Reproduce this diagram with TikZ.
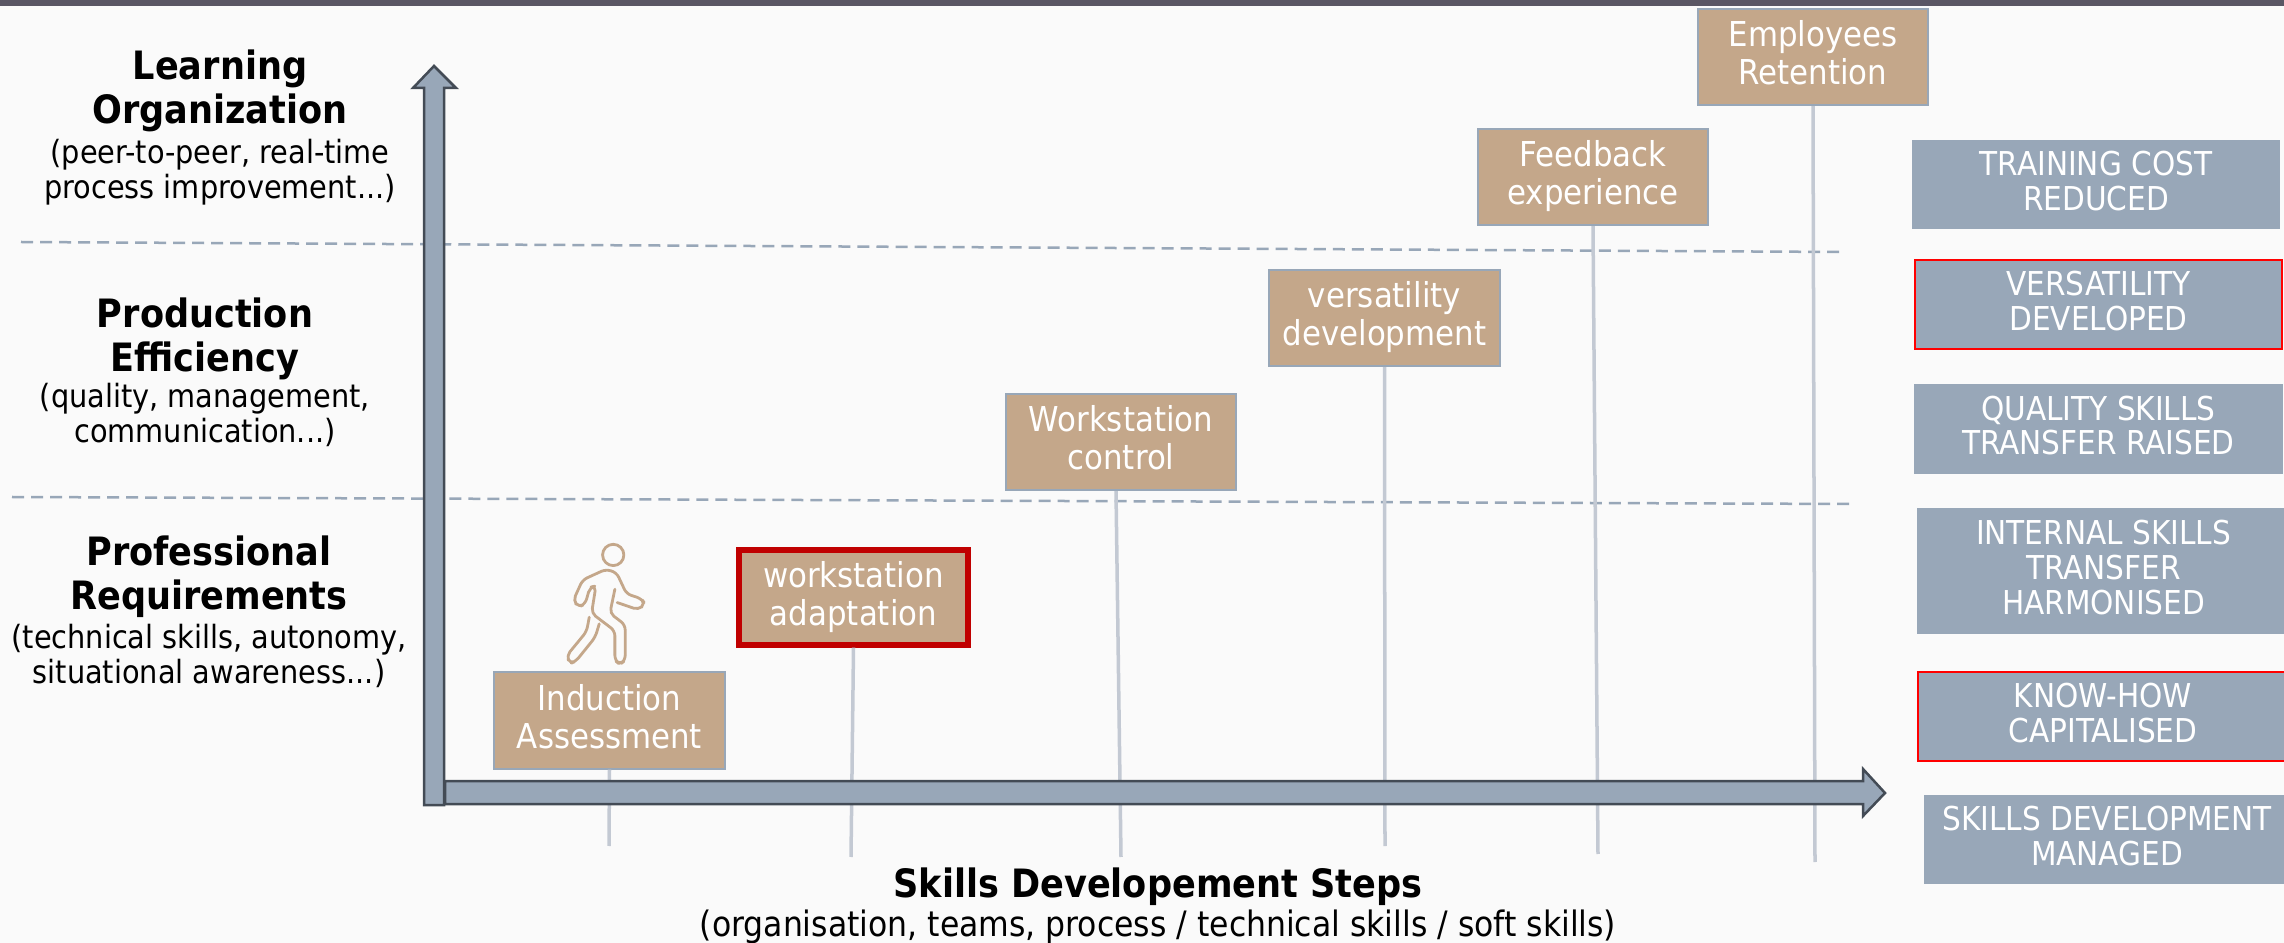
\documentclass[tikz,border=0pt]{standalone}
\usepackage{fontspec}
\setmainfont{DejaVu Sans Condensed}
\definecolor{pagegray}{HTML}{FAFAFA}
\definecolor{topbar}{HTML}{5A5664}
\definecolor{steelblue}{HTML}{98A7B8}
\definecolor{darkslate}{HTML}{434B55}
\definecolor{sandbrown}{HTML}{C4A78A}
\definecolor{paleline}{HTML}{C3C9D3}
\definecolor{keepred}{HTML}{C00000}
\tikzset{
	stepbox/.style={draw=steelblue, fill=sandbrown, line width=0.02cm, text=white, align=center, text depth=2.3pt,
		minimum width=2.3cm, minimum height=0.96cm, inner sep=0pt, font=\fontsize{9.75}{10.8}\selectfont},
	resultbox/.style={fill=steelblue, text=white, align=center, inner sep=0pt, text depth=2.1pt,
		font=\fontsize{9.35}{9.9}\selectfont},
	leveltitle/.style={align=center, inner sep=0pt, font=\fontsize{11.1}{12.5}\selectfont\bfseries},
	levelnote/.style={align=center, inner sep=0pt, font=\fontsize{9.1}{9.9}\selectfont},
	stepline/.style={paleline, line width=0.035cm},
	levelline/.style={steelblue, line width=0.025cm, dash pattern=on 0.12cm off 0.07cm},
	axisarrow/.style={draw=darkslate, fill=steelblue, line width=0.025cm, line join=miter},
	walker/.style={sandbrown, line width=0.028cm, rounded corners=0.05cm, line cap=round, line join=round}
}
\begin{document}
\begin{tikzpicture}[x=0.01cm, y=-0.01cm]
	\useasboundingbox (0,0) rectangle (2284,943);
	\fill [pagegray] (0,0) rectangle (2284,943);
	\fill [topbar] (0,0) rectangle (2284,6);

	\coordinate (levelAleft) at (21,242);
	\coordinate (levelAright) at (1843,252);
	\coordinate (levelBleft) at (12,497);
	\coordinate (levelBright) at (1853,504);

	\draw [levelline] (levelAleft) -- (levelAright);
	\draw [levelline] (levelBleft) -- (levelBright);

	\node [stepbox] (induction) at (609.5,720.5) {Induction\\Assessment};
	\node [stepbox, draw=keepred, line width=0.06cm, minimum width=2.28cm, minimum height=0.94cm] (adaptation) at (853.5,597.5) {workstation\\adaptation};
	\node [stepbox] (control) at (1121,442) {Workstation\\control};
	\node [stepbox] (versatility) at (1384.5,318) {versatility\\development};
	\node [stepbox] (feedback) at (1593,177) {Feedback\\experience};
	\node [stepbox] (retention) at (1813,57) {Employees\\Retention};

	\foreach \stepname/\startdx/\endx/\endy in {induction/0/609/846, adaptation/0/851/857, control/-0.05/1121/857, versatility/0/1385/846, feedback/0/1598/854, retention/0/1815/862}
	{
		\coordinate (\stepname end) at (\endx,\endy);
		\draw [stepline] ([xshift=\startdx cm]\stepname.south) -- (\stepname end);
	}

	\draw [axisarrow]
		(424,805) -- (424,88) -- (413,88) -- (434,66) -- (456,88) -- (444,88) -- (444,805) -- cycle;
	\draw [axisarrow]
		(445,781) -- (1863,781) -- (1863,769) -- (1885,793) -- (1863,816) -- (1863,804) -- (445,804) -- cycle;

	\node [leveltitle] (learning) at (220,91) {Learning\\Organization};
	\node [levelnote] (learningnote) at (220,172) {(peer-to-peer, real-time\\process improvement...)};
	\node [leveltitle] (production) at (205,339) {Production\\Efficiency};
	\node [levelnote] (productionnote) at (205,415) {(quality, management,\\communication...)};
	\node [leveltitle] (professional) at (209,577) {Professional\\Requirements};
	\node [levelnote] (professionalnote) at (209,656) {(technical skills, autonomy,\\situational awareness...)};
	\node [leveltitle] (steps) at (1158,887) {Skills Developement Steps};
	\node [levelnote, font=\fontsize{9.95}{11}\selectfont] (stepsnote) at (1158,927) {(organisation, teams, process / technical skills / soft skills)};

	\node [resultbox, minimum width=3.67cm, minimum height=0.89cm] (cost) at (2096,184.5) {TRAINING COST\\REDUCED};
	\node [resultbox, draw=red, line width=0.02cm, minimum width=3.67cm, minimum height=0.89cm] (developed) at (2098.5,304.5) {VERSATILITY\\DEVELOPED};
	\node [resultbox, minimum width=3.69cm, minimum height=0.89cm] (quality) at (2098.5,429) {QUALITY SKILLS\\TRANSFER RAISED};
	\node [resultbox, minimum width=3.73cm, minimum height=1.26cm] (internal) at (2103.5,571) {INTERNAL SKILLS\\TRANSFER\\HARMONISED};
	\node [resultbox, draw=red, line width=0.02cm, minimum width=3.7cm, minimum height=0.89cm] (knowhow) at (2103,716.5) {KNOW-HOW\\CAPITALISED};
	\node [resultbox, minimum width=3.66cm, minimum height=0.89cm] (managed) at (2107,839.5) {SKILLS DEVELOPMENT\\MANAGED};

	\begin{scope}[shift={(540,530)}, x=0.00333cm, y=-0.00333cm]
		\draw [walker] (220,75) circle (32);
		\draw [walker]
			(232,218) -- (296,240) -- (316,222) -- (304,206) -- (260,192) -- (230,128) -- (198,118)
			-- (128,150) -- (100,212) -- (116,232) -- (136,222) -- (150,172) -- (168,168)
			-- (155,250) -- (225,303) -- (225,392) -- (240,404) -- (256,392) -- (256,285) -- (210,250) -- (225,178);
		\draw [walker]
			(148,262) -- (140,305) -- (80,378) -- (90,402) -- (108,394) -- (166,322) -- (178,282);
	\end{scope}
\end{tikzpicture}
\end{document}
